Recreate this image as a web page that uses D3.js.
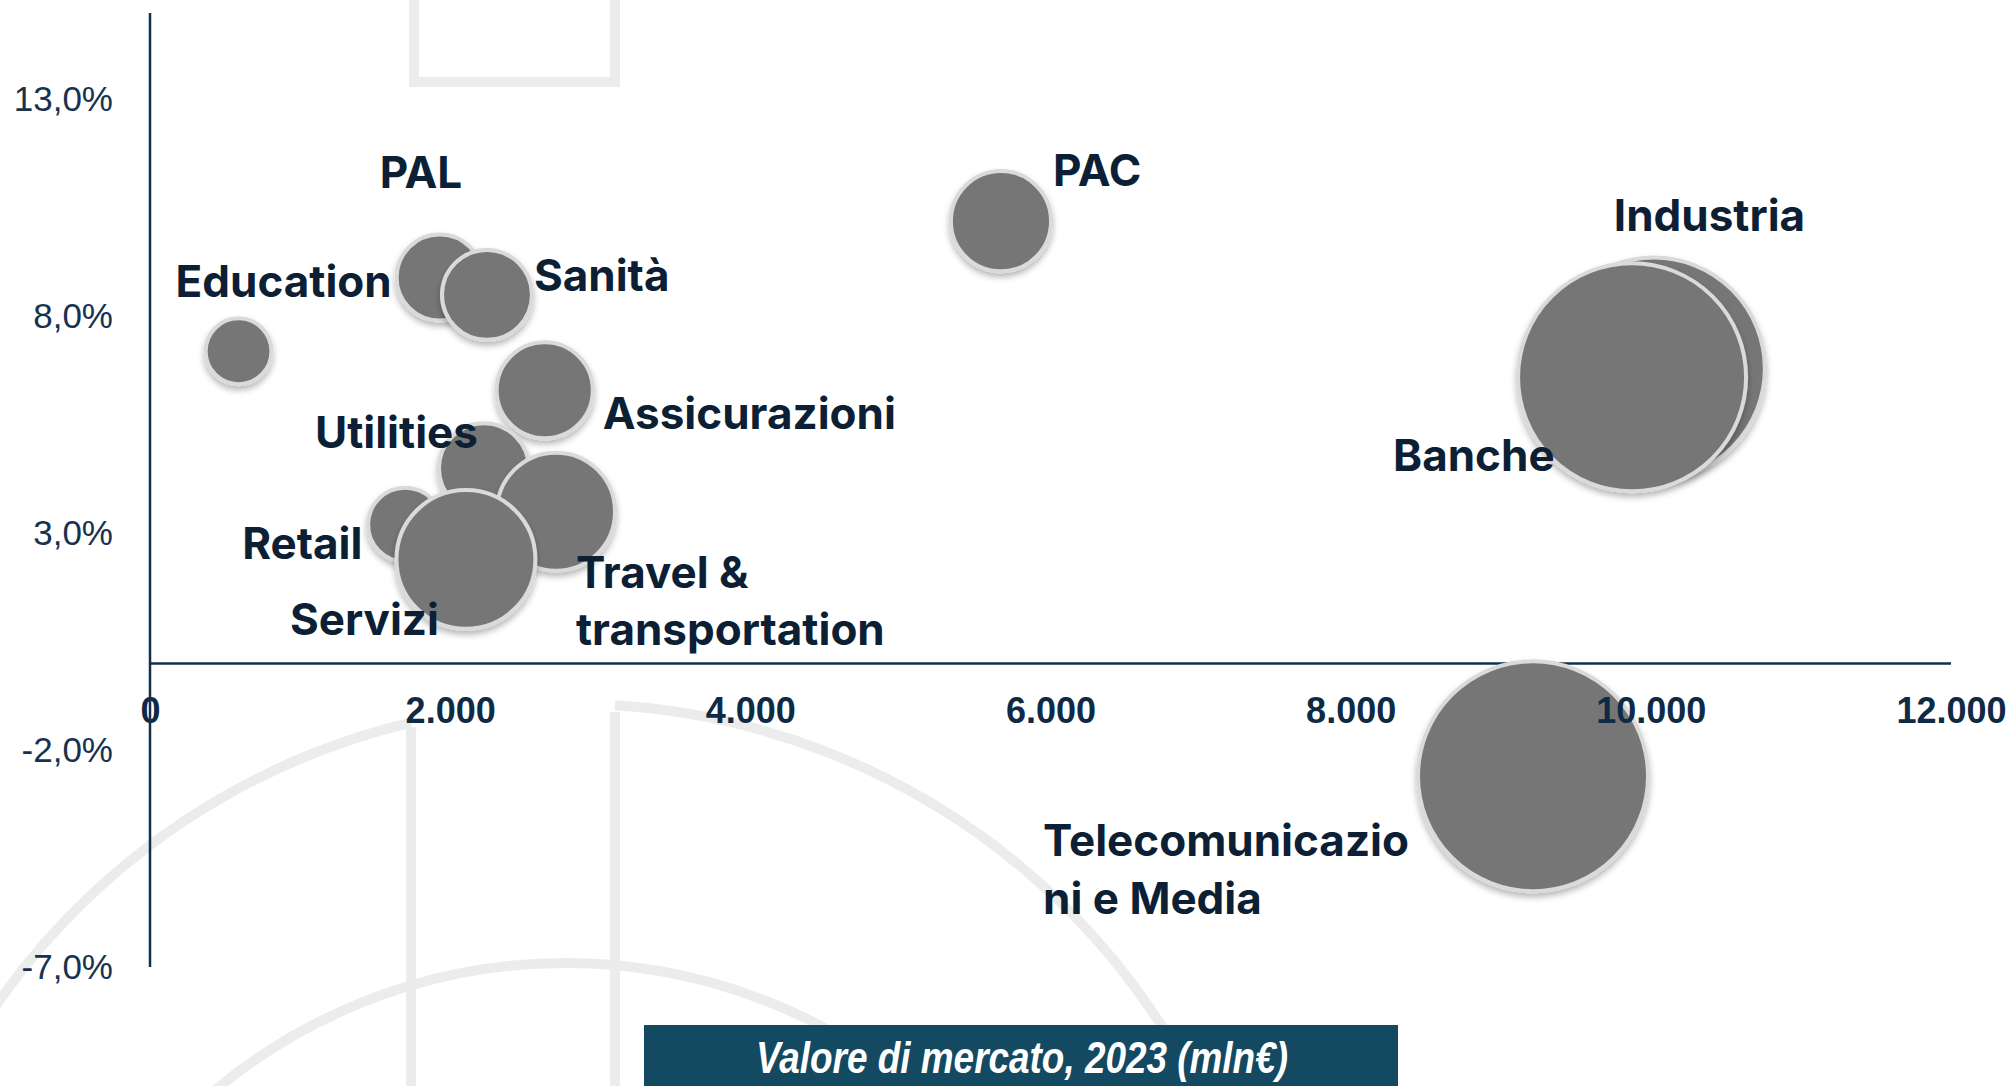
<!DOCTYPE html>
<html>
<head>
<meta charset="utf-8">
<script src="https://cdn.jsdelivr.net/npm/d3@7"></script>
<style>
  html, body { margin: 0; padding: 0; background: #ffffff; }
  svg { display: block; }
</style>
</head>
<body>
<svg id="chart" width="2013" height="1086"></svg>
<script>
// ---------------- DATA ----------------
const categories = ["Education", "PAL", "Sanità", "Assicurazioni", "Utilities", "Travel & transportation",
                    "Retail", "Servizi", "PAC", "Industria", "Banche", "Telecomunicazioni e Media"];
const labelLines = [["Education"], ["PAL"], ["Sanità"], ["Assicurazioni"], ["Utilities"], ["Travel &", "transportation"],
                    ["Retail"], ["Servizi"], ["PAC"], ["Industria"], ["Banche"], ["Telecomunicazio", "ni e Media"]];
// Valore di mercato 2023 (mln€)
const marketValue = [590, 1930, 2245, 2630, 2225, 2705, 1700, 2105, 5670, 10020, 9875, 9215];
// Crescita (%)
const growth = [7.2, 8.9, 8.5, 6.3, 4.5, 3.5, 3.2, 2.4, 10.2, 6.8, 6.6, -2.6];
// Bubble size (relative)
const bubbleSize = [8.9, 14.8, 16.1, 18.3, 16.1, 27.2, 11.1, 37.3, 19.8, 93.3, 98.3, 100];
const xTicks = [0, 2000, 4000, 6000, 8000, 10000, 12000];
const yTicks = [-7, -2, 3, 8, 13];
const xTitle = "Valore di mercato, 2023 (mln€)";

// ---------------- LAYOUT ----------------
const labelOffset = [ // [dx, dy] from bubble centre to label start / first baseline
  [-63, -54], [-60, -90], [47, -4], [58, 39], [-169, -20], [20, 76],
  [-163, 34], [-176, 76], [52, -35], [-40, -138], [-239, 94], [-490, 80]
];

const svg = d3.select("#chart");

const x = d3.scaleLinear().domain([0, 12000]).range([150, 1951]);
const y = d3.scaleLinear().domain([-7, 15]).range([967, 13]);
const r = d3.scaleSqrt().domain([0, 100]).range([0, 117]);

const it = d3.formatLocale({decimal: ",", thousands: ".", grouping: [3], currency: ["€", ""], minus: "-"});
const fmtX = it.format(",.0f");
const fmtY = d => it.format(".1f")(d) + "%";

// defs
const defs = svg.append("defs");
const f = defs.append("filter").attr("id", "shadow").attr("x", "-30%").attr("y", "-30%").attr("width", "160%").attr("height", "160%");
f.append("feDropShadow").attr("dx", 0).attr("dy", 4).attr("stdDeviation", 3)
  .attr("flood-color", "#000").attr("flood-opacity", 0.28);

// ---------------- WATERMARK ----------------
const wm = svg.append("g").attr("fill", "none").attr("stroke", "#ececec").attr("stroke-width", 10);
wm.append("path").attr("d", "M414,-10 V82 H615 V-10");
wm.append("path").attr("d", "M411,727 V1090");
wm.append("path").attr("d", "M615,712 V1090");
const bigR = 701, bcx = 572, bcy = 1405;
const by = xx => bcy - Math.sqrt(bigR * bigR - (xx - bcx) * (xx - bcx));
wm.append("path").attr("d", `M411,${by(411)} A${bigR},${bigR} 0 0,0 -100,${by(-100)}`);
wm.append("path").attr("d", `M615,${by(615)} A${bigR},${bigR} 0 0,1 1250,${by(1250)}`);
wm.append("circle").attr("cx", 566).attr("cy", 1510).attr("r", 547);

// ---------------- AXIS LINES ----------------
const axisColor = "#12304a";
svg.append("line").attr("x1", x(0)).attr("x2", x(12000)).attr("y1", y(0)).attr("y2", y(0))
  .attr("stroke", axisColor).attr("stroke-width", 2.5);

// ---------------- BUBBLES ----------------
const data = categories.map((c, i) => ({c, lines: labelLines[i], xv: marketValue[i], yv: growth[i], s: bubbleSize[i], off: labelOffset[i]}));
const strokeW = 4;
svg.append("g").selectAll("circle").data(data).join("circle")
  .attr("cx", d => x(d.xv)).attr("cy", d => y(d.yv))
  .attr("r", d => r(d.s) - strokeW / 2)
  .attr("fill", "#767676").attr("stroke", "#dadada").attr("stroke-width", strokeW)
  .attr("filter", "url(#shadow)");

// ---------------- AXES (labels on top) ----------------
const yAxis = svg.append("g").attr("transform", `translate(${x(0)},0)`)
  .call(d3.axisLeft(y).tickValues(yTicks).tickFormat(fmtY).tickSize(0).tickPadding(37));
yAxis.select(".domain").remove();
yAxis.selectAll("text").attr("font-family", "'Liberation Sans', Arial, sans-serif")
  .attr("font-size", 35).attr("fill", "#17324f");

const xAxis = svg.append("g").attr("transform", `translate(0,${y(0)})`)
  .call(d3.axisBottom(x).tickValues(xTicks).tickFormat(fmtX).tickSize(0).tickPadding(34));
xAxis.select(".domain").remove();
xAxis.selectAll("text").attr("font-family", "'Liberation Sans', Arial, sans-serif")
  .attr("font-size", 36).attr("font-weight", "bold").attr("fill", "#0f2a45");

svg.append("line").attr("x1", x(0)).attr("x2", x(0)).attr("y1", y(15)).attr("y2", y(-7))
  .attr("stroke", axisColor).attr("stroke-width", 2.5);

// ---------------- LABELS ----------------
const lbl = svg.append("g").attr("font-family", "Inter, 'Noto Sans', sans-serif").attr("font-weight", 700)
  .attr("font-size", 44).attr("fill", "#0c1f35");
data.forEach(d => {
  const t = lbl.append("text").attr("x", x(d.xv) + d.off[0]).attr("y", y(d.yv) + d.off[1]);
  d.lines.forEach((ln, k) => {
    t.append("tspan").attr("x", x(d.xv) + d.off[0]).attr("dy", k === 0 ? 0 : 57.5).text(ln);
  });
});

// ---------------- X TITLE BOX ----------------
svg.append("rect").attr("x", 644).attr("y", 1025).attr("width", 754).attr("height", 70).attr("fill", "#134961");
svg.append("text").attr("x", 1022).attr("y", 1073).attr("text-anchor", "middle")
  .attr("font-family", "'Liberation Sans Narrow', 'Arial Narrow', 'Liberation Sans', sans-serif")
  .attr("font-style", "italic").attr("font-weight", "bold").attr("font-size", 44)
  .attr("textLength", 532).attr("lengthAdjust", "spacingAndGlyphs")
  .attr("fill", "#ffffff").text(xTitle);
</script>
</body>
</html>
